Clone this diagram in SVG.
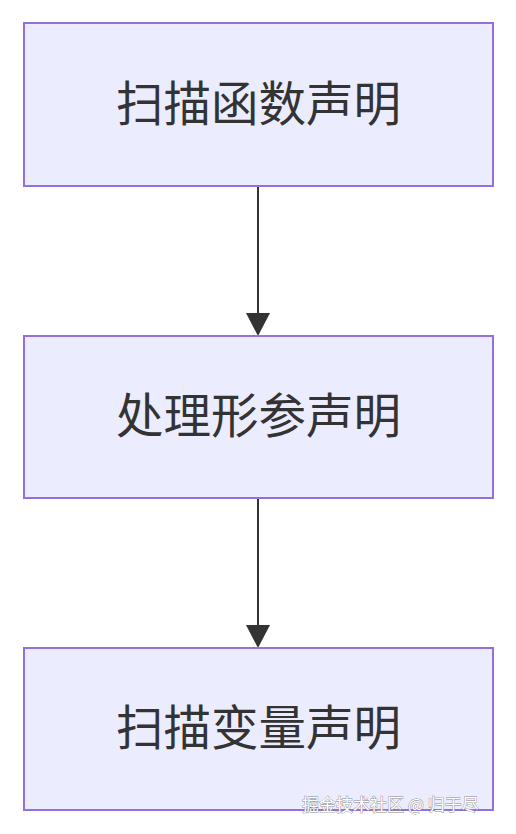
<svg xmlns="http://www.w3.org/2000/svg" width="516" height="834" viewBox="0 0 516 834">
<style>
.node rect{fill:#ECECFF;stroke:#9370DB;stroke-width:2}
.node text{font-family:"Noto Sans CJK SC","Noto Sans",sans-serif;font-size:47.5px;fill:#333;text-anchor:middle;dominant-baseline:central}
.edge{stroke:#333;stroke-width:2;fill:none}
.head{fill:#333}
.wm{font-family:"Noto Sans CJK SC",sans-serif;font-size:17px;fill:#fff;stroke:#888;stroke-width:0.8;paint-order:stroke}
</style>
<rect width="516" height="834" fill="#fff"/>
<g id="connectors">
<line class="edge" x1="258" y1="186" x2="258" y2="316"/>
<path class="head" d="M246,313 L270,313 L258,336 Z"/>
<line class="edge" x1="258" y1="498" x2="258" y2="628"/>
<path class="head" d="M246,625 L270,625 L258,648 Z"/>
</g>
<g id="n1" class="node"><rect x="24" y="23" width="469" height="163"/><text x="258.5" y="100">扫描函数声明</text></g>
<g id="n2" class="node"><rect x="24" y="336" width="469" height="162"/><text x="258.5" y="412">处理形参声明</text></g>
<g id="n3" class="node"><rect x="24" y="648" width="469" height="162"/><text x="258.5" y="724">扫描变量声明</text></g>
<text class="wm" x="302" y="811">掘金技术社区 @ 归于尽</text>
</svg>
